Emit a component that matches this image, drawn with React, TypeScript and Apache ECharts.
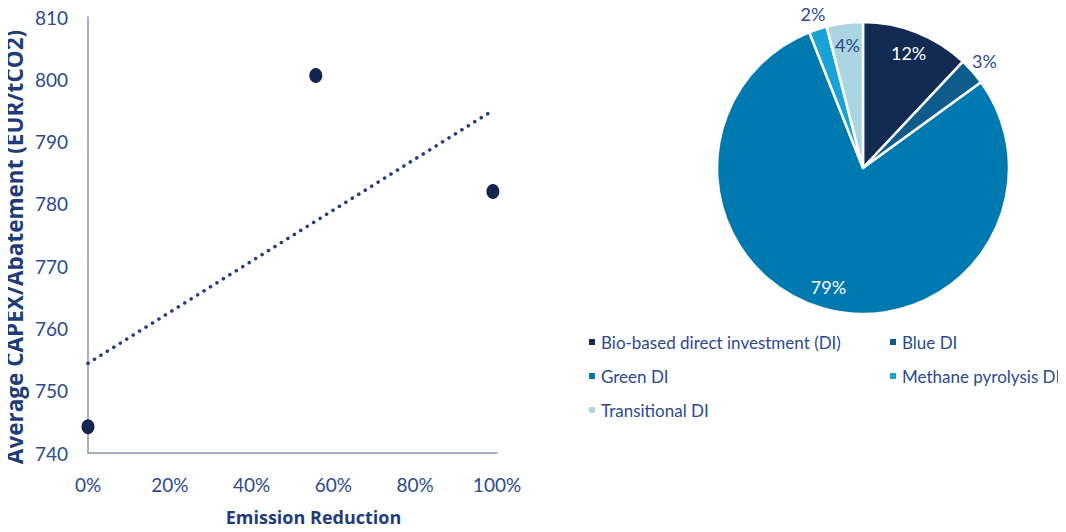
import React, { useEffect, useRef } from "react";
import * as echarts from "echarts";

const scatterX = [0, 0.557, 0.99];
const scatterY = [744.2, 800.6, 782.0];
const trendX = [0, 0.99];
const trendY = [754.4, 795.0];
const yTicks = { min: 740, max: 810, interval: 10 };
const xTicks = { min: 0, max: 1, interval: 0.2 };

const pieNames = [
  "Bio-based direct investment (DI)",
  "Blue DI",
  "Green DI",
  "Methane pyrolysis DI",
  "Transitional DI",
];
const pieValues = [12, 3, 79, 2, 4];
const pieColors = ["#132a52", "#0d5c8c", "#0079b1", "#18a2d5", "#acd5e4"];
const labelInside = [true, false, true, false, true];
const labelColors = ["#ffffff", "#2b4a8e", "#ffffff", "#2b4a8e", "#2b4a8e"];

const FONT = "Lato, 'Open Sans', sans-serif";
const TITLE_FONT = "'Open Sans', Lato, sans-serif";
const TXT = "#2b4a8e";

export default function App() {
  const ref = useRef<HTMLDivElement>(null);
  useEffect(() => {
    if (!ref.current) return;
    const chart = echarts.init(ref.current, undefined, { renderer: "svg" });
    const pieData = pieNames.map((n, i) => ({
      name: n,
      value: pieValues[i],
      itemStyle: { color: pieColors[i] },
    }));
    const labelData = (inside: boolean) =>
      pieNames.map((n, i) => ({
        name: n,
        value: pieValues[i],
        label: {
          show: labelInside[i] === inside,
          color: labelColors[i],
        },
      }));
    const legendText = { color: TXT, fontSize: 17, fontFamily: FONT, lineHeight: 20, overflow: "none" };
    chart.setOption({
      animation: false,
      textStyle: { fontFamily: FONT },
      grid: { left: 88, top: 17, right: 569, bottom: 79, containLabel: false },
      xAxis: {
        type: "value",
        min: xTicks.min,
        max: xTicks.max,
        interval: xTicks.interval,
        axisLine: { show: true, lineStyle: { color: "#8c93ad", width: 1.5 } },
        axisTick: { show: false },
        splitLine: { show: false },
        axisLabel: {
          color: TXT,
          fontSize: 19,
          margin: 22,
          fontFamily: FONT,
          formatter: (v: number) => Math.round(v * 100) + "%",
        },
        name: "Emission Reduction",
        nameLocation: "middle",
        nameGap: 55,
        nameTextStyle: {
          color: "#1f3c7a",
          fontSize: 18,
          fontWeight: "bold",
          fontFamily: TITLE_FONT,
          padding: [0, 0, 0, 42],
        },
      },
      yAxis: {
        type: "value",
        min: yTicks.min,
        max: yTicks.max,
        interval: yTicks.interval,
        axisLine: { show: true, lineStyle: { color: "#8c93ad", width: 1.5 } },
        axisTick: { show: false },
        splitLine: { show: false },
        axisLabel: { color: TXT, fontSize: 19, margin: 20, fontFamily: FONT },
        name: "Average CAPEX/Abatement (EUR/tCO2)",
        nameLocation: "middle",
        nameGap: 62,
        nameTextStyle: {
          color: "#1f3c7a",
          fontSize: 22.5,
          fontWeight: "bold",
          fontFamily: TITLE_FONT,
          padding: [0, 24, 0, 0],
        },
      },
      legend: [
        {
          orient: "vertical",
          left: 587,
          top: 332,
          padding: 0,
          icon: "rect",
          itemWidth: 8,
          itemHeight: 8,
          itemGap: 14,
          data: [pieNames[0], pieNames[2], pieNames[4]],
          textStyle: legendText,
          selectedMode: false,
        },
        {
          orient: "vertical",
          left: 888,
          top: 332,
          padding: 0,
          icon: "rect",
          itemWidth: 8,
          itemHeight: 8,
          itemGap: 14,
          data: [pieNames[1], pieNames[3]],
          textStyle: legendText,
          selectedMode: false,
        },
      ],
      series: [
        {
          type: "line",
          data: trendX.map((x, i) => [x, trendY[i]]),
          showSymbol: false,
          symbol: "none",
          lineStyle: { color: "#1f3f85", width: 3.5, type: [0.1, 7.5], cap: "round" },
          silent: true,
          z: 1,
        },
        {
          type: "scatter",
          data: scatterX.map((x, i) => [x, scatterY[i]]),
          symbol: "circle",
          symbolSize: [13, 15],
          itemStyle: { color: "#14264f", opacity: 1 },
          z: 3,
        },
        {
          type: "pie",
          center: [863, 168],
          radius: [0, 146],
          startAngle: 90,
          clockwise: true,
          data: pieData,
          label: { show: false },
          labelLine: { show: false },
          itemStyle: { borderColor: "#ffffff", borderWidth: 2.5 },
          emphasis: { disabled: true },
        },
        {
          type: "pie",
          center: [863, 168],
          radius: [0, 242],
          startAngle: 90,
          clockwise: true,
          data: labelData(true),
          itemStyle: { color: "rgba(0,0,0,0)" },
          label: {
            show: true,
            position: "inside",
            fontSize: 18,
            fontFamily: FONT,
            formatter: (p: any) => p.value + "%",
          },
          labelLine: { show: false },
          silent: true,
          emphasis: { disabled: true },
        },
        {
          type: "pie",
          center: [863, 168],
          radius: [0, 318],
          startAngle: 90,
          clockwise: true,
          data: labelData(false),
          itemStyle: { color: "rgba(0,0,0,0)" },
          label: {
            show: true,
            position: "inside",
            fontSize: 18,
            fontFamily: FONT,
            formatter: (p: any) => p.value + "%",
          },
          labelLine: { show: false },
          silent: true,
          emphasis: { disabled: true },
        },
      ],
    });
    return () => chart.dispose();
  }, []);
  return <div ref={ref} style={{ width: 1066, height: 532, margin: -8 }} />;
}
